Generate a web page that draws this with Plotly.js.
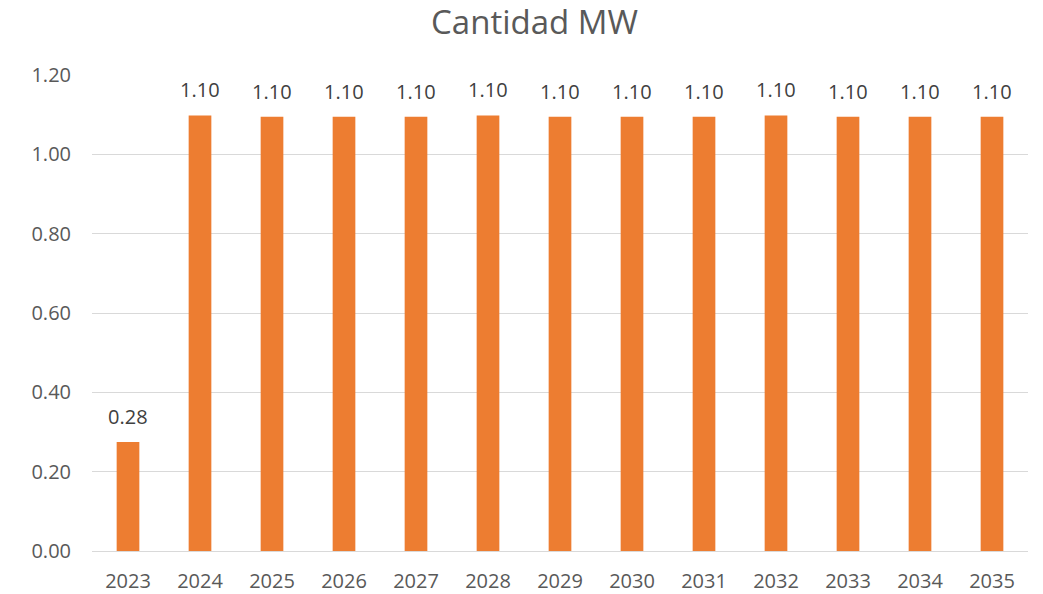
<!DOCTYPE html>
<html>
<head>
<meta charset="utf-8">
<script src="https://cdn.plot.ly/plotly-3.0.1.min.js"></script>
<style>html,body{margin:0;padding:0;background:#fff;}#chart{width:1043px;height:594px;}</style>
</head>
<body>
<div id="chart"></div>
<script>
const years = [2023, 2024, 2025, 2026, 2027, 2028, 2029, 2030, 2031, 2032, 2033, 2034, 2035];
const cantidadMW = [0.275, 1.098, 1.095, 1.095, 1.095, 1.098, 1.095, 1.095, 1.095, 1.098, 1.095, 1.095, 1.095];
const yTickVals = [0, 0.2, 0.4, 0.6, 0.8, 1.0, 1.2];

const trace = {
  type: 'bar',
  x: years,
  y: cantidadMW,
  width: 0.315,
  marker: {color: '#ED7D31', line: {width: 0}},
  hoverinfo: 'x+y'
};

const annotations = years.map((yr, i) => ({
  x: yr, y: cantidadMW[i], xref: 'x', yref: 'y',
  text: (Math.round(cantidadMW[i] * 100) / 100).toFixed(2),
  showarrow: false, yanchor: 'bottom', yshift: 10,
  font: {family: 'Open Sans, sans-serif', size: 20, color: '#404040'}
}));

const layout = {
  width: 1043, height: 594,
  margin: {l: 92, r: 15, t: 75, b: 43},
  paper_bgcolor: '#ffffff', plot_bgcolor: '#ffffff',
  title: {
    text: 'Cantidad MW',
    font: {family: 'Open Sans, sans-serif', size: 33, color: '#595959'},
    x: 0.5125, xanchor: 'center', y: 0.962, yanchor: 'middle', yref: 'container'
  },
  xaxis: {
    type: 'linear',
    range: [2022.5, 2035.5],
    tickmode: 'array',
    tickvals: years,
    ticktext: years.map(String),
    showgrid: false, showline: false, zeroline: false,
    ticks: '',
    ticklabelstandoff: 16,
    tickfont: {family: 'Open Sans, sans-serif', size: 20, color: '#595959'}
  },
  yaxis: {
    range: [0, 1.2],
    tickmode: 'array',
    tickvals: yTickVals,
    ticktext: yTickVals.map(v => v.toFixed(2)),
    showgrid: true, gridcolor: '#D9D9D9', gridwidth: 1,
    zeroline: true, zerolinecolor: '#D9D9D9', zerolinewidth: 1,
    showline: false, ticks: '',
    ticklabelstandoff: 20,
    tickfont: {family: 'Open Sans, sans-serif', size: 20, color: '#595959'}
  },
  annotations: annotations,
  showlegend: false
};

Plotly.newPlot('chart', [trace], layout, {displayModeBar: false, staticPlot: true});
</script>
</body>
</html>
